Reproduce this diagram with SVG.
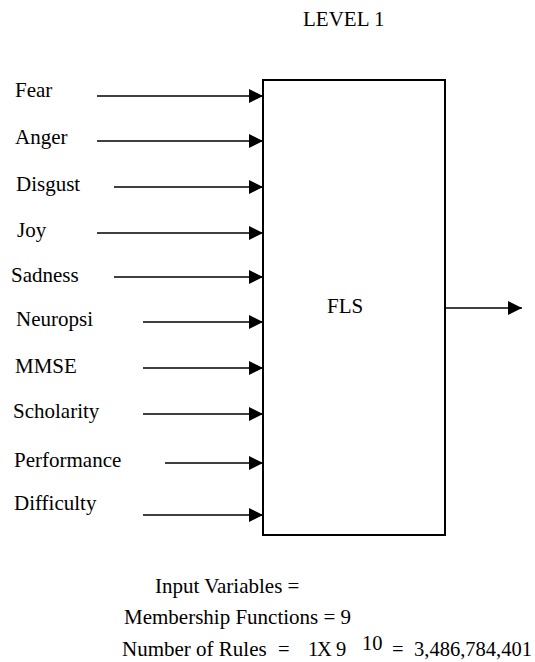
<svg xmlns="http://www.w3.org/2000/svg" width="535" height="662" viewBox="0 0 535 662">
<style>
text{font-family:'Liberation Serif','Times New Roman','DejaVu Serif',serif;font-size:21px;fill:#000}
text.s{font-size:20.5px}
.c line{stroke:#000;stroke-width:1.6;marker-end:url(#ah)}
.box{fill:#fff;stroke:#000;stroke-width:2}
</style>
<defs>
<marker id="ah" markerUnits="userSpaceOnUse" markerWidth="14" markerHeight="14" refX="14" refY="7" orient="auto">
<path d="M0,0 L14,7 L0,14 Z" fill="#000"/>
</marker>
</defs>
<rect width="535" height="662" fill="#fff"/>
<text x="303" y="26">LEVEL 1</text>
<g id="fls">
<rect class="box" x="263" y="80" width="182" height="455"/>
<text x="327" y="313">FLS</text>
</g>
<g id="inputs">
<text x="15" y="97">Fear</text>
<text x="15" y="144">Anger</text>
<text x="16" y="191">Disgust</text>
<text x="17" y="237">Joy</text>
<text x="11" y="282">Sadness</text>
<text x="16" y="326">Neuropsi</text>
<text x="15" y="373">MMSE</text>
<text x="13" y="418">Scholarity</text>
<text x="14" y="467">Performance</text>
<text x="14" y="510">Difficulty</text>
</g>
<g id="connectors" class="c">
<line x1="97" y1="96" x2="263" y2="96"/>
<line x1="97" y1="141" x2="263" y2="141"/>
<line x1="114" y1="187" x2="263" y2="187"/>
<line x1="97" y1="233" x2="263" y2="233"/>
<line x1="114" y1="277" x2="263" y2="277"/>
<line x1="143" y1="322" x2="263" y2="322"/>
<line x1="143" y1="368" x2="263" y2="368"/>
<line x1="143" y1="414" x2="263" y2="414"/>
<line x1="165" y1="463" x2="263" y2="463"/>
<line x1="143" y1="515" x2="263" y2="515"/>
<line x1="445" y1="308" x2="522" y2="308"/>
</g>
<g id="notes">
<text x="155" y="593">Input Variables =</text>
<text x="124" y="624">Membership Functions = 9</text>
<text x="122" y="656">Number of Rules</text>
<text class="s" x="278" y="656">=</text>
<text class="s" x="308" y="656">1</text>
<text class="s" x="317" y="656">X</text>
<text class="s" x="336" y="656">9</text>
<text class="s" x="362" y="650">10</text>
<text class="s" x="392" y="656">=</text>
<text class="s" x="414" y="656">3,486,784,401</text>
</g>
</svg>
